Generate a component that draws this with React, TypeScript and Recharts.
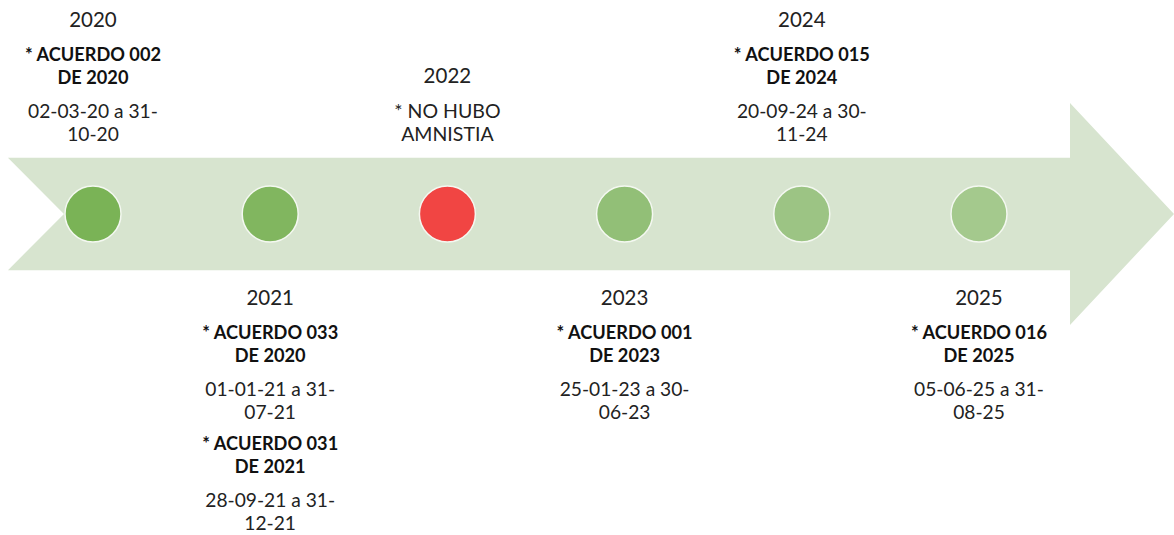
import { ScatterChart, Scatter, XAxis, YAxis, ReferenceArea } from 'recharts';

// timeline data
const years = ['2020', '2021', '2022', '2023', '2024', '2025'];
const sides = ['top', 'bottom', 'top', 'bottom', 'top', 'bottom'];
const dotColors = ['#7ab356', '#81b65f', '#f14543', '#92bf77', '#9cc484', '#a4c98d'];
const agreements = [
  [['* ACUERDO 002', 'DE 2020']],
  [['* ACUERDO 033', 'DE 2020'], ['* ACUERDO 031', 'DE 2021']],
  [['* NO HUBO', 'AMNISTIA']],
  [['* ACUERDO 001', 'DE 2023']],
  [['* ACUERDO 015', 'DE 2024']],
  [['* ACUERDO 016', 'DE 2025']],
];
const periods = [
  [['02-03-20 a 31-', '10-20']],
  [['01-01-21 a 31-', '07-21'], ['28-09-21 a 31-', '12-21']],
  [[]],
  [['25-01-23 a 30-', '06-23']],
  [['20-09-24 a 30-', '11-24']],
  [['05-06-25 a 31-', '08-25']],
];
const boldTitle = [true, true, false, true, true, true];

const data = years.map((year, i) => ({
  pos: i,
  level: 0,
  year,
  side: sides[i],
  color: dotColors[i],
  agreements: agreements[i],
  periods: periods[i],
  bold: boldTitle[i],
}));

const FONT = 'Lato, "Open Sans", sans-serif';

type Line = { text: string; kind: 'year' | 'title' | 'date'; bold?: boolean };

function buildLines(d: any): { line: Line; offset: number }[] {
  const lines: { line: Line; offset: number }[] = [];
  let y = 0;
  lines.push({ line: { text: d.year, kind: 'year' }, offset: y });
  y += 35;
  d.agreements.forEach((title: string[], k: number) => {
    if (k > 0) y += 32;
    title.forEach((t, j) => {
      if (j > 0) y += 23;
      lines.push({ line: { text: t, kind: 'title', bold: d.bold }, offset: y });
    });
    const per: string[] = d.periods[k] || [];
    per.forEach((t, j) => {
      y += j === 0 ? 33 : 23;
      lines.push({ line: { text: t, kind: 'date' }, offset: y });
    });
  });
  return lines;
}

const sizeOf = (l: Line) => (l.kind === 'year' ? 20.5 : l.kind === 'date' ? 19.2 : l.bold ? 18.2 : 19.5);

const EventMark = (props: any) => {
  const { cx, cy, payload } = props;
  const lines = buildLines(payload);
  const last = lines[lines.length - 1].offset;
  // top labels end just above the arrow, bottom labels start just below it
  const start = payload.side === 'top' ? cy - 81 - last : cy + 83;
  return (
    <g>
      <circle cx={cx} cy={cy} r={28} fill={payload.color} stroke="#f4f8f1" strokeWidth={1.5} />
      {lines.map(({ line, offset }, i) => (
        <text
          key={i}
          x={cx}
          y={start + offset}
          textAnchor="middle"
          dominantBaseline="central"
          fontFamily={FONT}
          fontSize={sizeOf(line)}
          fontWeight={line.kind === 'title' && line.bold ? 700 : 400}
          fill={line.kind === 'title' && line.bold ? '#111' : '#222'}
        >
          {line.text}
        </text>
      ))}
    </g>
  );
};

const ArrowShape = (props: any) => {
  const { x, y, width, height } = props;
  const mid = y + height / 2;
  const half = height * 0.253;
  const notch = 56;
  const head = 104;
  const pts = [
    [x, mid - half],
    [x + width - head, mid - half],
    [x + width - head, y],
    [x + width, mid],
    [x + width - head, y + height],
    [x + width - head, mid + half],
    [x, mid + half],
    [x + notch, mid],
  ]
    .map((p) => p.join(','))
    .join(' ');
  return <polygon points={pts} fill="#d7e4cf" />;
};

export default function App() {
  return (
    <div style={{ position: 'absolute', left: 0, top: 0, background: '#fff' }}>
      <ScatterChart width={1174} height={535} margin={{ top: 0, right: 0, bottom: 0, left: 0 }}>
        <XAxis type="number" dataKey="pos" domain={[-0.5248, 6.1005]} hide />
        <YAxis type="number" dataKey="level" domain={[-2.892, 1.928]} hide />
        <ReferenceArea x1={-0.48} x2={6.1005} y1={-1} y2={1} shape={<ArrowShape />} />
        <Scatter data={data} shape={<EventMark />} isAnimationActive={false} />
      </ScatterChart>
    </div>
  );
}
